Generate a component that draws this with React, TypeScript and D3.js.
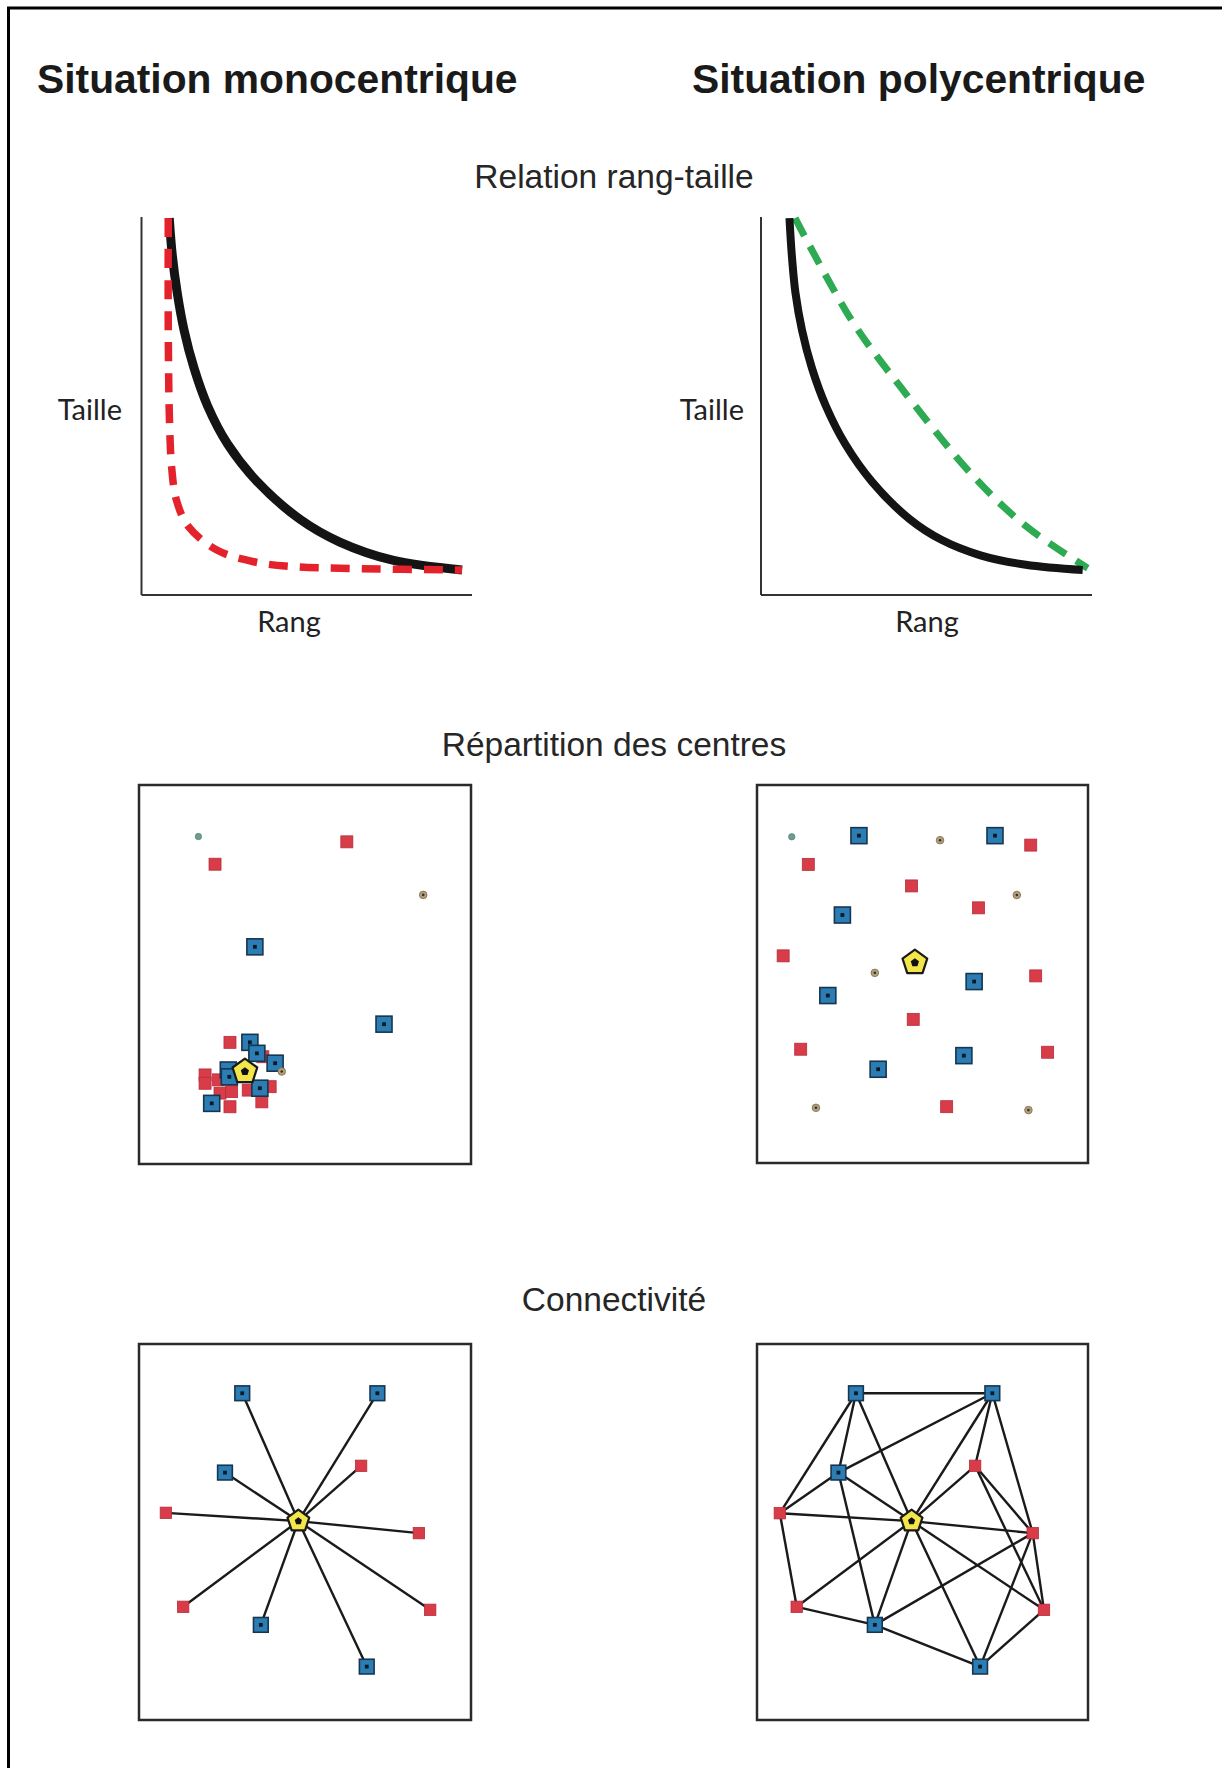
import React from 'react';
import * as d3 from 'd3';

// ---------- Text ----------
const titles = ['Situation monocentrique', 'Situation polycentrique'];
const sectionTitles = ['Relation rang-taille', 'Répartition des centres', 'Connectivité'];
const xAxisLabel = 'Rang';
const yAxisLabel = 'Taille';

// ---------- Rank-size curves (rank 0-100, size 0-100) ----------
const monoReference: [number, number][] = [
  [8.4, 99.7], [9.3, 90], [10.8, 80], [12.9, 70], [15.9, 60], [20, 50], [26, 40],
  [35, 30], [48, 20], [60, 14], [76, 9.2], [97, 6.6],
];
const monoObserved: [number, number][] = [
  [8.1, 99.7], [8.1, 70], [8.5, 45], [9.2, 33], [10.6, 25], [14.2, 18.1],
  [22.8, 11.9], [33.9, 8.8], [46, 7.5], [65, 7.0], [97, 6.6],
];
const polyReference: [number, number][] = [
  [8.6, 99.7], [9.3, 90], [10.4, 80], [12.4, 70], [15.4, 60], [19.6, 50], [25.4, 40],
  [33.5, 30], [45, 20], [54.5, 14.6], [66.3, 10.5], [80, 8], [97.2, 6.6],
];
const polyObserved: [number, number][] = [
  [10.3, 99.7], [27.3, 72.8], [42.1, 55.1], [64.3, 31.3], [80.2, 18.1], [98.7, 7.1],
];

// ---------- Distribution of centres (panel units 0-100, y downward) ----------
type Kind = 'red' | 'blue' | 'tan' | 'teal' | 'main';
type Centre = { x: number; y: number; k: Kind };

const monoCentres: Centre[] = [
  { x: 17.9, y: 13.6, k: 'teal' },
  { x: 22.9, y: 20.9, k: 'red' },
  { x: 62.6, y: 15.0, k: 'red' },
  { x: 85.6, y: 29.0, k: 'tan' },
  { x: 34.9, y: 42.7, k: 'blue' },
  { x: 73.8, y: 63.1, k: 'blue' },
  { x: 27.4, y: 67.9, k: 'red' },
  { x: 19.9, y: 76.5, k: 'red' },
  { x: 19.9, y: 78.7, k: 'red' },
  { x: 23.9, y: 77.8, k: 'red' },
  { x: 24.4, y: 81.3, k: 'red' },
  { x: 27.9, y: 80.9, k: 'red' },
  { x: 32.9, y: 80.5, k: 'red' },
  { x: 39.5, y: 79.6, k: 'red' },
  { x: 37.0, y: 83.6, k: 'red' },
  { x: 27.4, y: 84.9, k: 'red' },
  { x: 33.4, y: 67.9, k: 'blue' },
  { x: 35.5, y: 70.8, k: 'blue' },
  { x: 37.3, y: 71.7, k: 'red' },
  { x: 41.0, y: 73.4, k: 'blue' },
  { x: 26.9, y: 75.2, k: 'blue' },
  { x: 27.2, y: 77.0, k: 'blue' },
  { x: 36.4, y: 80.0, k: 'blue' },
  { x: 21.9, y: 84.0, k: 'blue' },
  { x: 43.0, y: 75.6, k: 'tan' },
  { x: 31.9, y: 75.6, k: 'main' },
];

const polyCentres: Centre[] = [
  { x: 10.5, y: 13.7, k: 'teal' },
  { x: 30.8, y: 13.4, k: 'blue' },
  { x: 55.3, y: 14.6, k: 'tan' },
  { x: 71.9, y: 13.4, k: 'blue' },
  { x: 82.7, y: 15.9, k: 'red' },
  { x: 15.5, y: 21.0, k: 'red' },
  { x: 46.7, y: 26.7, k: 'red' },
  { x: 78.5, y: 29.1, k: 'tan' },
  { x: 66.9, y: 32.5, k: 'red' },
  { x: 25.8, y: 34.4, k: 'blue' },
  { x: 7.9, y: 45.2, k: 'red' },
  { x: 35.6, y: 49.7, k: 'tan' },
  { x: 65.6, y: 52.0, k: 'blue' },
  { x: 84.2, y: 50.5, k: 'red' },
  { x: 21.4, y: 55.7, k: 'blue' },
  { x: 47.2, y: 62.0, k: 'red' },
  { x: 13.2, y: 69.9, k: 'red' },
  { x: 62.5, y: 71.6, k: 'blue' },
  { x: 87.8, y: 70.7, k: 'red' },
  { x: 36.6, y: 75.2, k: 'blue' },
  { x: 17.8, y: 85.4, k: 'tan' },
  { x: 57.3, y: 85.1, k: 'red' },
  { x: 82.0, y: 86.0, k: 'tan' },
  { x: 47.7, y: 47.0, k: 'main' },
];

// ---------- Connectivity ----------
type Node = { id: string; x: number; y: number; k: Kind };
const monoNodes: Node[] = [
  { id: 'P', x: 48.0, y: 47.1, k: 'main' },
  { id: 'A', x: 31.1, y: 13.1, k: 'blue' },
  { id: 'B', x: 71.8, y: 13.1, k: 'blue' },
  { id: 'C', x: 25.9, y: 34.2, k: 'blue' },
  { id: 'D', x: 66.9, y: 32.4, k: 'red' },
  { id: 'E', x: 8.1, y: 44.9, k: 'red' },
  { id: 'F', x: 84.3, y: 50.3, k: 'red' },
  { id: 'G', x: 13.3, y: 69.9, k: 'red' },
  { id: 'H', x: 36.7, y: 74.7, k: 'blue' },
  { id: 'I', x: 87.7, y: 70.7, k: 'red' },
  { id: 'J', x: 68.6, y: 85.8, k: 'blue' },
];
const monoLinks: [string, string][] = [
  ['P', 'A'], ['P', 'B'], ['P', 'C'], ['P', 'D'], ['P', 'E'],
  ['P', 'F'], ['P', 'G'], ['P', 'H'], ['P', 'I'], ['P', 'J'],
];
const polyNodes: Node[] = [
  { id: 'P', x: 46.7, y: 47.1, k: 'main' },
  { id: 'A', x: 29.9, y: 13.1, k: 'blue' },
  { id: 'B', x: 71.1, y: 13.1, k: 'blue' },
  { id: 'C', x: 24.6, y: 34.2, k: 'blue' },
  { id: 'D', x: 65.9, y: 32.4, k: 'red' },
  { id: 'E', x: 6.9, y: 45.0, k: 'red' },
  { id: 'F', x: 83.3, y: 50.3, k: 'red' },
  { id: 'G', x: 12.0, y: 69.9, k: 'red' },
  { id: 'H', x: 35.6, y: 74.7, k: 'blue' },
  { id: 'I', x: 86.7, y: 70.7, k: 'red' },
  { id: 'J', x: 67.4, y: 85.8, k: 'blue' },
];
const polyLinks: [string, string][] = [
  ['A', 'B'], ['A', 'C'], ['A', 'E'], ['A', 'P'],
  ['B', 'C'], ['B', 'P'], ['B', 'D'], ['B', 'F'],
  ['C', 'E'], ['C', 'P'], ['C', 'H'],
  ['E', 'P'], ['E', 'G'],
  ['G', 'P'], ['G', 'H'],
  ['H', 'P'], ['H', 'J'], ['H', 'F'],
  ['J', 'P'], ['J', 'F'], ['J', 'I'],
  ['P', 'D'], ['P', 'F'], ['P', 'I'],
  ['D', 'F'], ['D', 'I'], ['F', 'I'],
];

// ---------- Styles ----------
const BLUE = '#2c7db4';
const BLUE_EDGE = '#163650';
const RED = '#d83c49';
const RED_EDGE = '#b52e3a';
const TAN = '#b3a07c';
const TEAL = '#6c9c92';
const YELLOW = '#f2e64a';
const SANS = '"Liberation Sans", Arial, Helvetica, sans-serif';
const LABEL = 'Lato, "Open Sans", sans-serif';

const pentagon = (r: number) => {
  const pts = d3.range(5).map((i) => {
    const a = -Math.PI / 2 + (i * 2 * Math.PI) / 5;
    return [r * Math.cos(a), r * Math.sin(a)] as [number, number];
  });
  return (d3.line()(pts) || '') + 'Z';
};

function Marker({ cx, cy, k, big = 1 }: { cx: number; cy: number; k: Kind; big?: number }) {
  if (k === 'blue') {
    const s = 16 * big;
    return (
      <g transform={`translate(${cx},${cy})`}>
        <rect x={-s / 2} y={-s / 2} width={s} height={s} fill={BLUE} stroke={BLUE_EDGE} strokeWidth={1.6} />
        <rect x={-1.9} y={-1.9} width={3.8} height={3.8} fill="#0d1a26" />
      </g>
    );
  }
  if (k === 'red') {
    const s = 12 * big;
    return (
      <rect x={cx - s / 2} y={cy - s / 2} width={s} height={s} fill={RED} stroke={RED_EDGE} strokeWidth={0.8} />
    );
  }
  if (k === 'tan') {
    return (
      <g>
        <circle cx={cx} cy={cy} r={3.8} fill={TAN} stroke="#7a6a4c" strokeWidth={0.8} />
        <circle cx={cx} cy={cy} r={1.3} fill="#3a3226" />
      </g>
    );
  }
  if (k === 'teal') {
    return <circle cx={cx} cy={cy} r={3.2} fill={TEAL} stroke="#4d706a" strokeWidth={0.6} />;
  }
  return (
    <g transform={`translate(${cx},${cy})`}>
      <path d={pentagon(13 * big)} fill={YELLOW} stroke="#1a1a1a" strokeWidth={2.2} strokeLinejoin="round" />
      <path d={pentagon(4.3 * big)} fill="#111" />
    </g>
  );
}

function RankChart({ x0, x1, reference, observed, color, yLabelX, xLabelX, dashedOnTop }: {
  x0: number; x1: number; reference: [number, number][]; observed: [number, number][];
  color: string; yLabelX: number; xLabelX: number; dashedOnTop: boolean;
}) {
  const yTop = 217;
  const yBot = 595;
  const x = d3.scaleLinear().domain([0, 100]).range([x0, x1]);
  const y = d3.scaleLinear().domain([0, 100]).range([yBot, yTop]);
  const line = d3.line<[number, number]>()
    .x((d) => x(d[0]))
    .y((d) => y(d[1]))
    .curve(d3.curveCatmullRom.alpha(0.5));
  const solid = <path d={line(reference) || ''} fill="none" stroke="#141414" strokeWidth={dashedOnTop ? 9 : 8} />;
  const dashed = (
    <path d={line(observed) || ''} fill="none" stroke={color} strokeWidth={dashedOnTop ? 7.5 : 7}
      strokeDasharray={dashedOnTop ? '19,12' : '20,12'} />
  );
  return (
    <g>
      <line x1={x0} y1={yTop} x2={x0} y2={yBot} stroke="#333" strokeWidth={2} />
      <line x1={x0} y1={yBot} x2={x1} y2={yBot} stroke="#333" strokeWidth={2} />
      {dashedOnTop ? <>{solid}{dashed}</> : <>{dashed}{solid}</>}
      <text x={yLabelX} y={420} textAnchor="end" fontFamily={LABEL} fontSize={29} fill="#222">{yAxisLabel}</text>
      <text x={xLabelX} y={632} textAnchor="middle" fontFamily={LABEL} fontSize={29} fill="#222">{xAxisLabel}</text>
    </g>
  );
}

function Panel({ x0, y0, x1, y1, children }: { x0: number; y0: number; x1: number; y1: number; children: React.ReactNode }) {
  return (
    <g>
      <rect x={x0} y={y0} width={x1 - x0} height={y1 - y0} fill="#fff" stroke="#2a2a2a" strokeWidth={2.5} />
      {children}
    </g>
  );
}

function CentresPanel({ x0, y0, x1, y1, data }: { x0: number; y0: number; x1: number; y1: number; data: Centre[] }) {
  const x = d3.scaleLinear().domain([0, 100]).range([x0, x1]);
  const y = d3.scaleLinear().domain([0, 100]).range([y0, y1]);
  const order: Kind[] = ['red', 'blue', 'tan', 'teal', 'main'];
  return (
    <Panel x0={x0} y0={y0} x1={x1} y1={y1}>
      {order.map((k) =>
        data.filter((d) => d.k === k).map((d, i) => <Marker key={k + i} cx={x(d.x)} cy={y(d.y)} k={d.k} />)
      )}
    </Panel>
  );
}

function NetworkPanel({ x0, y0, x1, y1, nodes, links }: {
  x0: number; y0: number; x1: number; y1: number; nodes: Node[]; links: [string, string][];
}) {
  const x = d3.scaleLinear().domain([0, 100]).range([x0, x1]);
  const y = d3.scaleLinear().domain([0, 100]).range([y0, y1]);
  const byId = new Map(nodes.map((n) => [n.id, n]));
  return (
    <Panel x0={x0} y0={y0} x1={x1} y1={y1}>
      {links.map(([a, b], i) => {
        const na = byId.get(a)!;
        const nb = byId.get(b)!;
        return <line key={i} x1={x(na.x)} y1={y(na.y)} x2={x(nb.x)} y2={y(nb.y)} stroke="#1a1a1a" strokeWidth={2.4} />;
      })}
      {nodes.filter((n) => n.k !== 'main').map((n) => (
        <Marker key={n.id} cx={x(n.x)} cy={y(n.y)} k={n.k} big={n.k === 'blue' ? 0.92 : 0.95} />
      ))}
      {nodes.filter((n) => n.k === 'main').map((n) => (
        <Marker key={n.id} cx={x(n.x)} cy={y(n.y)} k={n.k} big={0.88} />
      ))}
    </Panel>
  );
}

export default function App() {
  return (
    <svg width={1222} height={1768} viewBox="0 0 1222 1768" style={{ position: 'absolute', left: 0, top: 0, background: '#fff' }}>
      <rect x={0} y={0} width={1222} height={1768} fill="#fff" />
      <line x1={7} y1={8} x2={1222} y2={8} stroke="#000" strokeWidth={3} />
      <line x1={8.5} y1={7} x2={8.5} y2={1768} stroke="#000" strokeWidth={3} />

      <text x={37} y={93} fontFamily={SANS} fontWeight="bold" fontSize={40.8} fill="#1a1a1a">{titles[0]}</text>
      <text x={692} y={93} fontFamily={SANS} fontWeight="bold" fontSize={40.8} fill="#1a1a1a">{titles[1]}</text>

      <text x={614} y={188} textAnchor="middle" fontFamily={SANS} fontSize={33.5} fill="#262626">{sectionTitles[0]}</text>
      <text x={614} y={756} textAnchor="middle" fontFamily={SANS} fontSize={33.5} fill="#262626">{sectionTitles[1]}</text>
      <text x={614} y={1311} textAnchor="middle" fontFamily={SANS} fontSize={33.5} fill="#262626">{sectionTitles[2]}</text>

      <RankChart x0={141.5} x1={472} reference={monoReference} observed={monoObserved} color="#e3222b"
        yLabelX={122} xLabelX={289} dashedOnTop={true} />
      <RankChart x0={761} x1={1092} reference={polyReference} observed={polyObserved} color="#2daa52"
        yLabelX={744} xLabelX={927} dashedOnTop={false} />

      <CentresPanel x0={139} y0={785} x1={471} y1={1164} data={monoCentres} />
      <CentresPanel x0={757} y0={785} x1={1088} y1={1163} data={polyCentres} />

      <NetworkPanel x0={139} y0={1344} x1={471} y1={1720} nodes={monoNodes} links={monoLinks} />
      <NetworkPanel x0={757} y0={1344} x1={1088} y1={1720} nodes={polyNodes} links={polyLinks} />
    </svg>
  );
}
